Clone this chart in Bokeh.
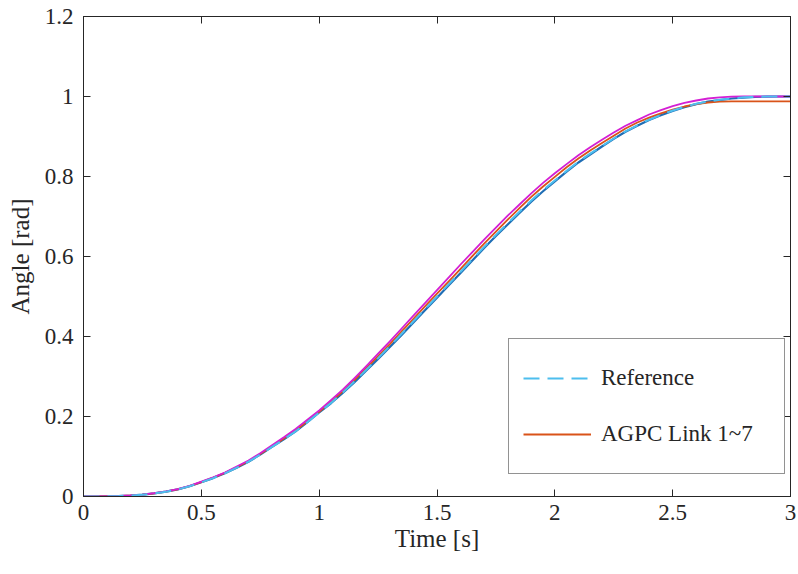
from bokeh.plotting import figure
from bokeh.models import Range1d, LinearAxis, FixedTicker, CustomJSTickFormatter, Legend, LegendItem
from bokeh.embed import file_html
from bokeh.resources import INLINE

# ---- data ----
time_s = [0.0, 0.05, 0.1, 0.15, 0.2, 0.25, 0.3, 0.35, 0.4, 0.45,
          0.5, 0.55, 0.6, 0.65, 0.7, 0.75, 0.8, 0.85, 0.9, 0.95,
          1.0, 1.05, 1.1, 1.15, 1.2, 1.25, 1.3, 1.35, 1.4, 1.45,
          1.5, 1.55, 1.6, 1.65, 1.7, 1.75, 1.8, 1.85, 1.9, 1.95,
          2.0, 2.05, 2.1, 2.15, 2.2, 2.25, 2.3, 2.35, 2.4, 2.45,
          2.5, 2.55, 2.6, 2.65, 2.7, 2.75, 2.8, 2.85, 2.9, 2.95, 3.0]
reference = [0, 0.00004, 0.0003, 0.0011, 0.0024, 0.0045, 0.0078, 0.0121, 0.0177, 0.0255,
             0.0355, 0.046, 0.058, 0.072, 0.087, 0.105, 0.124, 0.143, 0.163, 0.186,
             0.21, 0.234, 0.26, 0.288, 0.317, 0.346, 0.376, 0.407, 0.438, 0.469,
             0.5, 0.531, 0.562, 0.593, 0.624, 0.654, 0.683, 0.712, 0.74, 0.766,
             0.79, 0.814, 0.837, 0.857, 0.876, 0.895, 0.913, 0.928, 0.942, 0.954,
             0.965, 0.974, 0.982, 0.987, 0.992, 0.995, 0.998, 0.999, 1.0, 1.0, 1.0]
link_blue = [0, 0.00004, 0.0003, 0.0011, 0.0024, 0.0045, 0.0078, 0.0121, 0.0177, 0.0255,
             0.0355, 0.046, 0.058, 0.072, 0.087, 0.105, 0.124, 0.143, 0.163, 0.186,
             0.21, 0.233, 0.259, 0.286, 0.315, 0.344, 0.374, 0.404, 0.435, 0.466,
             0.497, 0.528, 0.559, 0.59, 0.621, 0.651, 0.68, 0.709, 0.737, 0.763,
             0.788, 0.812, 0.835, 0.855, 0.875, 0.894, 0.912, 0.927, 0.941, 0.953,
             0.964, 0.973, 0.981, 0.987, 0.991, 0.995, 0.997, 0.999, 0.9995, 1.0, 1.0]
link_orange = [0, 0.00004, 0.0003, 0.0011, 0.0025, 0.0046, 0.0079, 0.0123, 0.018, 0.026,
               0.036, 0.047, 0.059, 0.073, 0.088, 0.106, 0.125, 0.145, 0.165, 0.188,
               0.212, 0.237, 0.263, 0.291, 0.321, 0.351, 0.381, 0.413, 0.444, 0.476,
               0.507, 0.538, 0.569, 0.601, 0.632, 0.662, 0.692, 0.721, 0.749, 0.775,
               0.799, 0.823, 0.845, 0.865, 0.884, 0.902, 0.92, 0.935, 0.947, 0.958,
               0.967, 0.975, 0.981, 0.985, 0.987, 0.988, 0.988, 0.988, 0.988, 0.988, 0.988]
link_magenta = [0, 0.00004, 0.0003, 0.0012, 0.0026, 0.0048, 0.0082, 0.0127, 0.0185, 0.0265,
                0.037, 0.048, 0.06, 0.075, 0.09, 0.108, 0.128, 0.148, 0.169, 0.192,
                0.215, 0.241, 0.267, 0.296, 0.326, 0.357, 0.388, 0.42, 0.452, 0.484,
                0.516, 0.548, 0.58, 0.611, 0.642, 0.672, 0.702, 0.73, 0.758, 0.784,
                0.808, 0.831, 0.853, 0.873, 0.892, 0.91, 0.927, 0.941, 0.955, 0.966,
                0.976, 0.984, 0.99, 0.995, 0.998, 0.9995, 1.0, 1.0, 1.0, 1.0, 1.0]
x_ticks = [0, 0.5, 1, 1.5, 2, 2.5, 3]
y_ticks = [0, 0.2, 0.4, 0.6, 0.8, 1.0, 1.2]
legend_labels = ["Reference", "AGPC Link 1~7"]

FONT = "Nimbus Roman"
TXT = "#262626"

p = figure(width=798, height=574, output_backend="svg", toolbar_location=None,
           x_range=Range1d(0, 3), y_range=Range1d(0, 1.2),
           min_border_left=83, min_border_right=8, min_border_top=16, min_border_bottom=78)
p.background_fill_color = "white"
p.border_fill_color = "white"
p.outline_line_color = TXT
p.outline_line_width = 1
p.xgrid.visible = False
p.ygrid.visible = False

fmt = CustomJSTickFormatter(code="return String(Math.round(tick*10)/10);")
blank = CustomJSTickFormatter(code="return '';")

for ax, ticks in ((p.xaxis[0], x_ticks), (p.yaxis[0], y_ticks)):
    ax.ticker = FixedTicker(ticks=ticks)
    ax.formatter = fmt
    ax.major_tick_in = 7
    ax.major_tick_out = 0
    ax.minor_tick_line_color = None
    ax.axis_line_color = TXT
    ax.major_tick_line_color = TXT
    ax.major_label_text_font = FONT
    ax.major_label_text_font_size = "23px"
    ax.major_label_text_color = TXT
    ax.axis_label_text_font = FONT
    ax.axis_label_text_font_size = "25px"
    ax.axis_label_text_font_style = "normal"
    ax.axis_label_text_color = TXT

p.xaxis[0].axis_label = "Time [s]"
p.yaxis[0].axis_label = "Angle [rad]"
p.xaxis[0].major_label_standoff = 8
p.xaxis[0].axis_label_standoff = 2
p.yaxis[0].major_label_standoff = 10
p.yaxis[0].axis_label_standoff = 8

# mirrored ticks on top and right (box on)
for loc, ticks in (("right", y_ticks), ("above", x_ticks)):
    ax = LinearAxis(ticker=FixedTicker(ticks=ticks), formatter=blank)
    ax.major_tick_in = 7
    ax.major_tick_out = 0
    ax.minor_tick_line_color = None
    ax.major_label_standoff = 0
    ax.axis_line_color = TXT
    ax.major_tick_line_color = TXT
    p.add_layout(ax, loc)

r_blue = p.line(time_s, link_blue, line_color="#1f6eb5", line_width=2.2, line_join="round")
r_orange = p.line(time_s, link_orange, line_color="#D95319", line_width=1.8, line_join="round")
r_mag = p.line(time_s, link_magenta, line_color="#d41fd4", line_width=1.8, line_join="round")
r_ref = p.line(time_s, reference, line_color="#4DBEEE", line_width=2, line_dash="16 8")

legend = Legend(items=[LegendItem(label=legend_labels[0], renderers=[r_ref]),
                       LegendItem(label=legend_labels[1], renderers=[r_orange])],
                location=(425, 22))
legend.glyph_width = 68
legend.glyph_height = 50
legend.label_height = 50
legend.label_width = 169
legend.label_standoff = 10
legend.padding = 14
legend.spacing = 6
legend.margin = 0
legend.border_line_color = TXT
legend.border_line_width = 1
legend.background_fill_color = "white"
legend.background_fill_alpha = 1
legend.label_text_font = FONT
legend.label_text_font_size = "23px"
legend.label_text_color = TXT
p.add_layout(legend, "center")

open("out.html", "w").write(file_html(p, INLINE))
